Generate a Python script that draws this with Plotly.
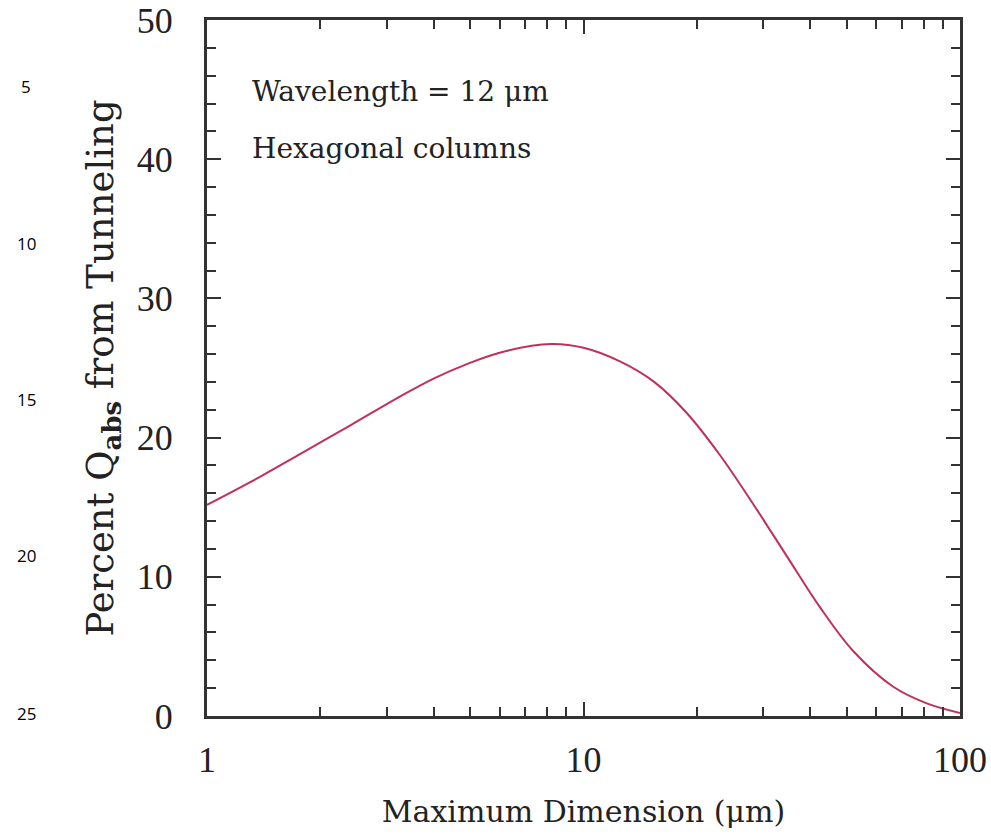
import plotly.graph_objects as go

# Data
max_dim_um = [1.0, 1.31, 1.78, 2.41, 3.27, 4.01, 4.92, 6.02, 8.2, 10.0, 12.5,
              15.4, 18.8, 23.0, 28.3, 34.7, 42.5, 52.1, 66.5, 81.6, 100.0]
pct_qabs = [15.16, 16.83, 18.87, 20.9, 22.98, 24.26, 25.3, 26.12, 26.72, 26.45, 25.47,
            24.0, 21.77, 18.77, 15.18, 11.47, 7.8, 4.65, 2.1, 0.91, 0.22]

x_tickvals = [1, 10, 100]
x_ticktext = ["1", "10", "100"]
x_minor = [2, 3, 4, 5, 6, 7, 8, 9, 20, 30, 40, 50, 60, 70, 80, 90]
y_tickvals = [0, 10, 20, 30, 40, 50]
line_numbers = ["5", "10", "15", "20", "25"]
line_number_y = [87, 243, 399, 555, 713]
notes = ["Wavelength = 12 μm", "Hexagonal columns"]

AX = "#333333"
SERIF = "DejaVu Serif"
NUMF = "Liberation Serif"

fig = go.Figure()
fig.add_trace(go.Scatter(
    x=max_dim_um, y=pct_qabs, mode="lines",
    line=dict(color="#C0305A", width=2, shape="spline", smoothing=1.0),
    showlegend=False, hoverinfo="skip"))

fig.update_layout(
    width=991, height=840,
    margin=dict(l=207, r=31, t=20, b=124),
    paper_bgcolor="white", plot_bgcolor="white",
    xaxis=dict(
        type="log", range=[0, 2], automargin=False,
        tickvals=x_tickvals, ticktext=x_ticktext,
        ticks="inside", ticklen=14, tickwidth=2, tickcolor=AX,
        minor=dict(tickvals=x_minor, ticks="inside", ticklen=9, tickwidth=2, tickcolor=AX, showgrid=False),
        showline=True, linecolor=AX, linewidth=3, mirror="ticks",
        showgrid=False, zeroline=False,
        tickfont=dict(family=NUMF, size=36, color="#222"),
        ticklabelstandoff=10, ticklabeloverflow="allow",
        title=dict(text="Maximum Dimension (μm)", font=dict(family=SERIF, size=30, color="#222"), standoff=22),
    ),
    yaxis=dict(
        range=[0, 50], tickvals=y_tickvals, automargin=False,
        ticks="inside", ticklen=14, tickwidth=2, tickcolor=AX,
        minor=dict(dtick=2, ticks="inside", ticklen=9, tickwidth=2, tickcolor=AX, showgrid=False),
        showline=True, linecolor=AX, linewidth=3, mirror="ticks",
        showgrid=False, zeroline=False,
        tickfont=dict(family=NUMF, size=36, color="#222"),
        ticklabelstandoff=24, ticklabeloverflow="allow",
        title=dict(text="Percent Q<sub><b>abs</b></sub> from Tunneling",
                   font=dict(family=SERIF, size=37, color="#222"), standoff=12),
    ),
)

for i, t in enumerate(notes):
    fig.add_annotation(xref="paper", yref="paper", x=(250 - 207) / 753, y=1 - ((92 + 56 * i) - 20) / 696,
                       xanchor="left", yanchor="middle", text=t, showarrow=False,
                       font=dict(family=SERIF, size=28, color="#222"))

for t, yy in zip(line_numbers, line_number_y):
    fig.add_annotation(xref="paper", yref="paper", x=(26 - 207) / 753, y=1 - (yy - 20) / 696,
                       xanchor="center", yanchor="middle", text=t, showarrow=False,
                       font=dict(family="Open Sans", size=17, color="#000"))

fig.write_html("out.html")
